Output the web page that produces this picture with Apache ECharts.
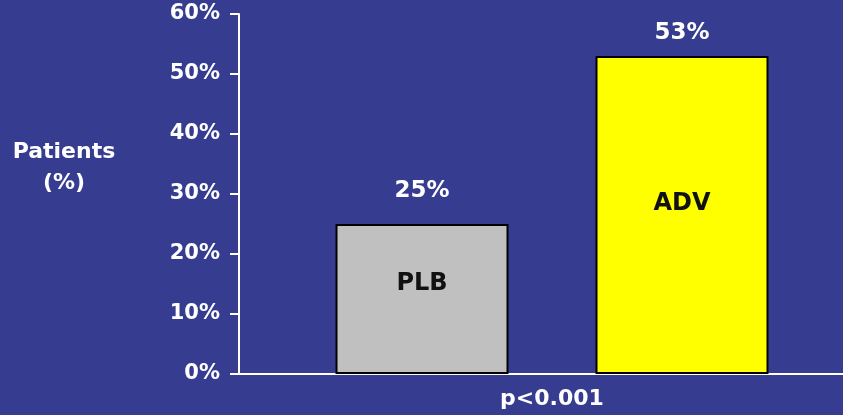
<!DOCTYPE html>
<html>
<head>
<meta charset="utf-8">
<script src="https://cdn.jsdelivr.net/npm/echarts@6/dist/echarts.min.js"></script>
<style>
    html, body { margin: 0; padding: 0; background: #363c90; }
    #main { width: 843px; height: 415px; }
</style>
</head>
<body>
<div id="main"></div>
<script>
    // data
    var groups = ['PLB', 'ADV'];
    var patients = [25, 53];
    var barColors = ['#c0c0c0', '#ffff00'];
    var yTicks = [0, 10, 20, 30, 40, 50, 60];

    var font = 'DejaVu Sans, Verdana, sans-serif';

    var chartDom = document.getElementById('main');
    var myChart = echarts.init(chartDom);

    var option = {
        backgroundColor: '#363c90',
        animation: false,
        grid: [
            // grid with the visible axes
            {left: 239, right: 0, top: 14, bottom: 41, outerBoundsMode: 'none'},
            // grid for the bars
            {left: 292, right: 31, top: 14, bottom: 41, outerBoundsMode: 'none'}
        ],
        graphic: [
            {
                type: 'text',
                x: 64,
                y: 137,
                style: {
                    text: 'Patients\n(%)',
                    align: 'center',
                    verticalAlign: 'top',
                    fill: '#fff',
                    font: 'bold 22px ' + font,
                    lineHeight: 31
                }
            }
        ],
        xAxis: [
            {
                gridIndex: 0,
                type: 'category',
                data: [''],
                axisLine: {lineStyle: {color: '#fff', width: 2}},
                axisTick: {show: false},
                axisLabel: {show: false}
            },
            {
                gridIndex: 1,
                type: 'category',
                data: groups,
                axisLine: {show: false},
                axisTick: {show: false},
                axisLabel: {show: false},
                name: 'p<0.001',
                nameLocation: 'middle',
                nameGap: 14,
                nameTextStyle: {color: '#fff', fontFamily: font, fontWeight: 'bold', fontSize: 22}
            }
        ],
        yAxis: [
            {
                gridIndex: 0,
                type: 'value',
                min: yTicks[0],
                max: yTicks[yTicks.length - 1],
                interval: 10,
                axisLine: {show: true, lineStyle: {color: '#fff', width: 2}},
                axisTick: {show: true, length: 9, lineStyle: {color: '#fff', width: 2}},
                splitLine: {show: false},
                axisLabel: {
                    formatter: '{value}%',
                    margin: 19,
                    color: '#fff',
                    fontFamily: font,
                    fontWeight: 'bold',
                    fontSize: 21
                }
            },
            {
                gridIndex: 1,
                type: 'value',
                min: yTicks[0],
                max: yTicks[yTicks.length - 1],
                show: false
            }
        ],
        series: [
            {
                type: 'bar',
                xAxisIndex: 1,
                yAxisIndex: 1,
                barWidth: 173,
                barGap: '-100%',
                data: patients.map(function (v, i) {
                    return {
                        value: v,
                        itemStyle: {color: barColors[i]},
                        label: {distance: i === 0 ? 21 : 11}
                    };
                }),
                itemStyle: {borderColor: '#000', borderWidth: 2},
                label: {
                    show: true,
                    position: 'top',
                    formatter: '{c}%',
                    color: '#fff',
                    fontFamily: font,
                    fontWeight: 'bold',
                    fontSize: 23
                }
            },
            {
                // transparent copy, only carries the group names inside the bars
                type: 'bar',
                xAxisIndex: 1,
                yAxisIndex: 1,
                barWidth: 173,
                barGap: '-100%',
                silent: true,
                data: patients.map(function (v, i) {
                    return {
                        value: v,
                        label: {offset: [0, i === 0 ? -15 : -11]}
                    };
                }),
                itemStyle: {color: 'transparent'},
                label: {
                    show: true,
                    position: 'inside',
                    formatter: '{b}',
                    color: '#111',
                    fontFamily: font,
                    fontWeight: 'bold',
                    fontSize: 24
                }
            }
        ]
    };

    myChart.setOption(option);
</script>
</body>
</html>
